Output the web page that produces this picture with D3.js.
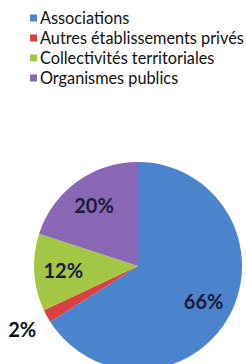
<!DOCTYPE html>
<html><head><meta charset="utf-8">
<script src="https://cdn.jsdelivr.net/npm/d3@7"></script>
<style>html,body{margin:0;padding:0;background:#fff;}svg{display:block;}</style>
</head><body>
<svg id="chart" width="246" height="364"></svg>
<script>
const categories = ["Associations", "Autres établissements privés", "Collectivités territoriales", "Organismes publics"];
const values = [66, 2, 12, 20];
const labels = ["66%", "2%", "12%", "20%"];
const colors = ["#4b83cc", "#d8413f", "#a3c645", "#8a67b4"];

const svg = d3.select("#chart");
const font = "Lato, 'Open Sans', sans-serif";

// Legend
const leg = svg.append("g");
const rowY = d3.scalePoint().domain(categories).range([18, 78]);
const texts = [];
categories.forEach((c, i) => {
  const y = rowY(c);
  leg.append("rect").attr("x", 30).attr("y", y - 3.5).attr("width", 7).attr("height", 7).attr("fill", colors[i]);
  texts.push(leg.append("text").attr("x", 40).attr("y", y).attr("dy", "0.36em")
    .attr("font-family", font).attr("font-size", 14).attr("fill", "#111").text(c));
});
// fit legend font so the longest entry reaches the right edge as in the reference
const maxW = d3.max(texts, t => t.node().getComputedTextLength());
const fs = 14 * 204 / maxW;
texts.forEach(t => t.attr("font-size", fs));

// Pie
const cx = 138, cy = 266, r = 104;
const pie = d3.pie().sort(null).value(d => d);
const arcs = pie(values);
const arc = d3.arc().innerRadius(0).outerRadius(r);
const g = svg.append("g").attr("transform", `translate(${cx},${cy})`);
g.selectAll("path").data(arcs).enter().append("path")
  .attr("d", arc).attr("fill", (d, i) => colors[i]);

// Labels
const labelArc = d3.arc().innerRadius(r * 0.72).outerRadius(r * 0.72);
const outerArc = d3.arc().innerRadius(r * 1.27).outerRadius(r * 1.27);
arcs.forEach((d, i) => {
  const isSmall = values[i] < 5;
  const p = isSmall ? outerArc.centroid(d) : labelArc.centroid(d);
  g.append("text").attr("x", p[0]).attr("y", p[1]).attr("dy", "0.36em")
    .attr("text-anchor", "middle").attr("font-family", font).attr("font-weight", "bold")
    .attr("font-size", 20).attr("fill", isSmall ? "#111" : "#1b1b3a").text(labels[i]);
});
</script>
</body></html>
